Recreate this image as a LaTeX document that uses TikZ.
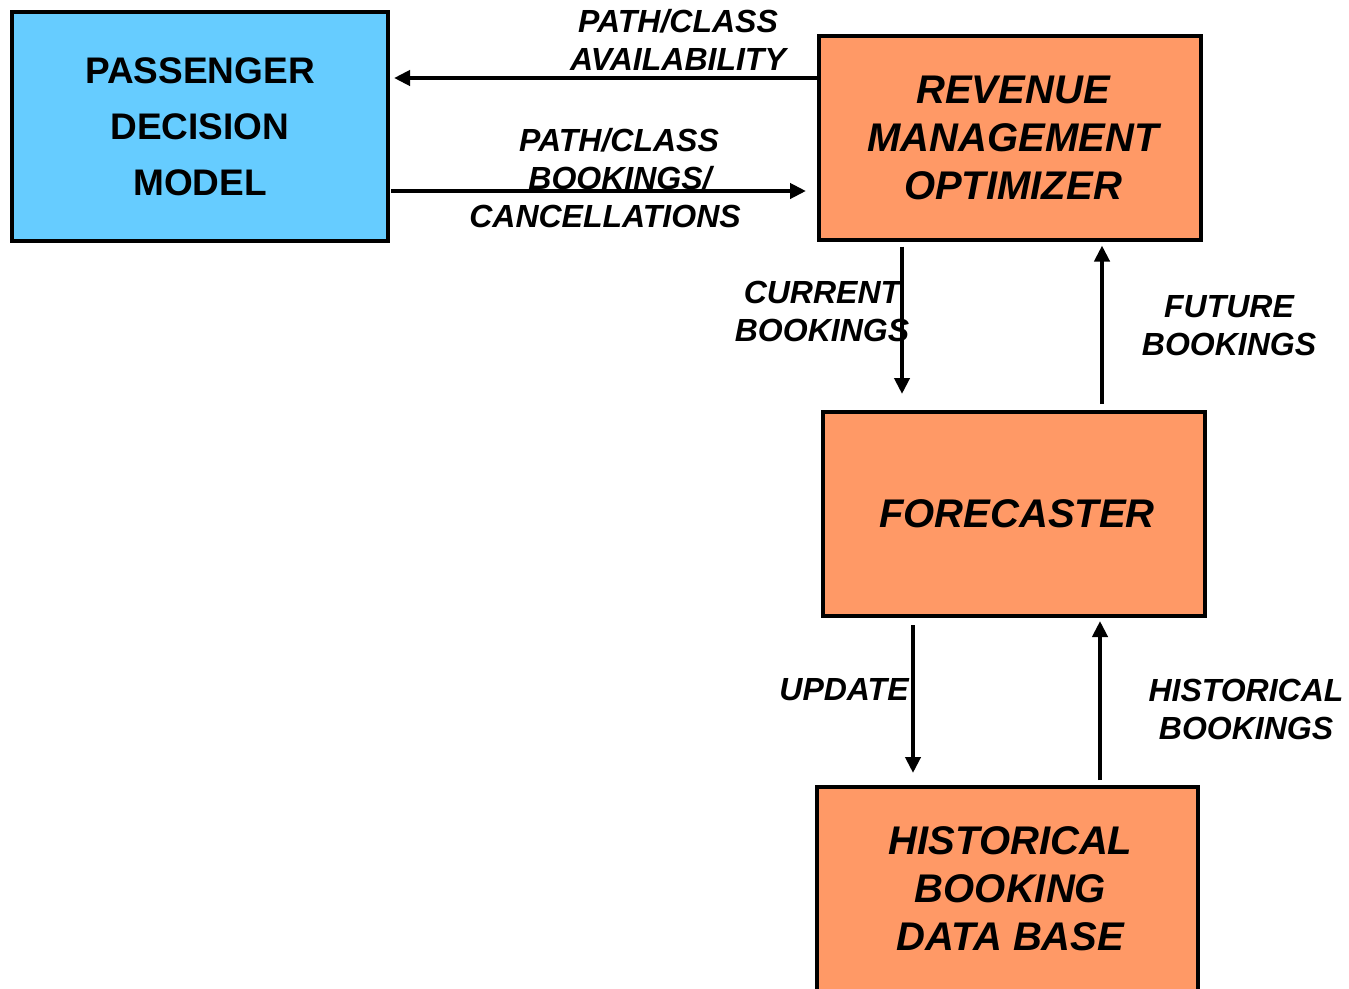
\documentclass[tikz,border=0pt]{standalone}
\usepackage{fontspec}
\setmainfont{Liberation Sans}
\usetikzlibrary{arrows.meta}
\definecolor{pblue}{HTML}{66CCFF}
\definecolor{porange}{HTML}{FF9966}
\begin{document}
\begin{tikzpicture}[x=1pt,y=-1pt,
  box/.style={draw=black,line width=4pt,rectangle,align=center,inner sep=0pt,
    minimum width=382pt,minimum height=204pt},
  bluebox/.style={box,fill=pblue,minimum width=376pt,minimum height=229pt,
    font=\fontsize{37}{56}\selectfont\bfseries},
  orangebox/.style={box,fill=porange,font=\fontsize{40}{48}\selectfont\bfseries\itshape},
  lbl/.style={align=center,inner sep=0pt,font=\fontsize{32}{38}\selectfont\bfseries\itshape},
  arr/.style={line width=4pt,-{Triangle[length=16pt,width=15pt]}}]
\useasboundingbox (0,0) rectangle (1349,988);
\node[bluebox,text depth=-4pt] (pdm) at (200,126.5) {PASSENGER\\DECISION\\MODEL};
\node[orangebox] (rmo) at (1010,137.5) {\hspace*{6pt}REVENUE\\\hspace*{6pt}MANAGEMENT\\\hspace*{6pt}OPTIMIZER};
\node[orangebox] (fc) at (1014,514) {\hspace*{6pt}FORECASTER};
\node[orangebox,minimum width=381pt] (hb) at (1007.5,889) {\hspace*{6pt}HISTORICAL\\\hspace*{6pt}BOOKING\\\hspace*{6pt}DATA BASE};
% guide coordinates
\coordinate (yA) at (0,78);
\coordinate (yB) at (0,191);
\coordinate (xC) at (902,0);
\coordinate (xF) at (1102,0);
\coordinate (xU) at (913,0);
\coordinate (xH) at (1100,0);
% connectors
\draw[arr,shorten >=4pt] (rmo.west |- yA) -- (pdm.east |- yA);
\draw[arr,shorten <=1pt,shorten >=11pt] (pdm.east |- yB) -- (rmo.west |- yB);
\draw[arr,shorten <=5pt,shorten >=16pt] (rmo.south -| xC) -- (fc.north -| xC);
\draw[arr,shorten <=6pt,shorten >=4pt] (fc.north -| xF) -- (rmo.south -| xF);
\draw[arr,shorten <=7pt,shorten >=12pt] (fc.south -| xU) -- (hb.north -| xU);
\draw[arr,shorten <=5pt,shorten >=3pt] (hb.north -| xH) -- (fc.south -| xH);
% labels
\node[lbl] (lavail) at (678,40) {PATH/CLASS\\AVAILABILITY};
\node[lbl] (lbook) at (605,178) {\hspace*{28pt}PATH/CLASS\\\hspace*{30pt}BOOKINGS/\\CANCELLATIONS};
\node[lbl] (lcur) at (822,311.5) {CURRENT\\BOOKINGS};
\node[lbl] (lfut) at (1229,325.5) {FUTURE\\BOOKINGS};
\node[lbl] (lupd) at (844,690) {UPDATE};
\node[lbl] (lhist) at (1246,709) {HISTORICAL\\BOOKINGS};
\end{tikzpicture}
\end{document}
